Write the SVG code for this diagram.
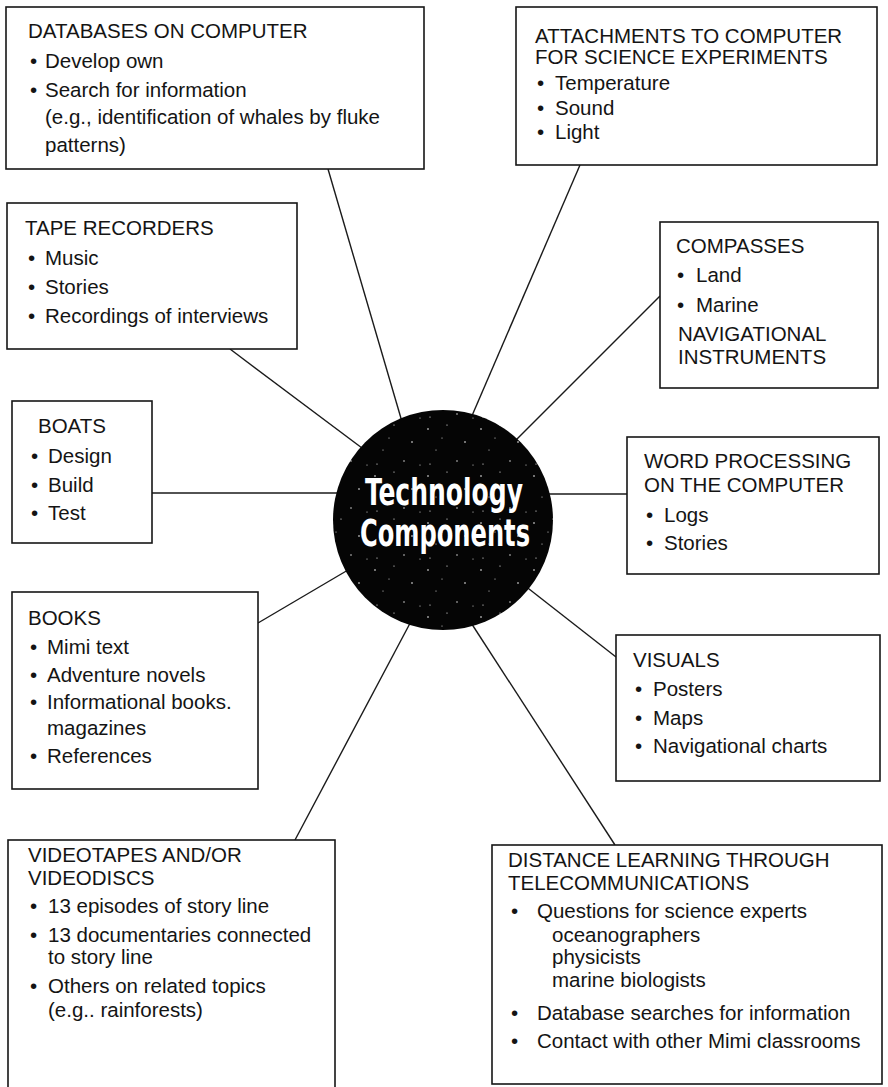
<svg xmlns="http://www.w3.org/2000/svg" width="888" height="1087" viewBox="0 0 888 1087">
<style>
.box{fill:#fff;stroke:#161616;stroke-width:1.6}
.t{font-family:"Liberation Sans",Arial,sans-serif;font-size:20.5px;fill:#141414}
.conn line{stroke:#1a1a1a;stroke-width:1.4}
.hub{font-family:"Liberation Sans Narrow","DejaVu Sans Condensed","Liberation Sans",sans-serif;font-weight:bold;font-size:38px;fill:#fff}
.sp{fill:#fff}
</style>
<defs>
<pattern id="speck" width="53" height="47" patternUnits="userSpaceOnUse">
<rect width="53" height="47" fill="#050505"/>
<circle class="sp" cx="4" cy="6" r="0.8"/>
<circle class="sp" cx="23" cy="2" r="0.6"/>
<circle class="sp" cx="41" cy="19" r="0.8"/>
<circle class="sp" cx="12" cy="27" r="0.5"/>
<circle class="sp" cx="33" cy="38" r="0.7"/>
<circle class="sp" cx="49" cy="42" r="0.5"/>
<circle class="sp" cx="18" cy="15" r="0.5"/>
<circle class="sp" cx="6" cy="41" r="0.6"/>
</pattern>
</defs>
<rect width="888" height="1087" fill="#fff"/>
<g class="conn" id="connectors">
<line x1="328" y1="169" x2="405" y2="432"/>
<line x1="580" y1="165" x2="468" y2="425"/>
<line x1="230" y1="349" x2="370" y2="454"/>
<line x1="660" y1="296" x2="505" y2="451"/>
<line x1="152" y1="493" x2="350" y2="493"/>
<line x1="627" y1="494" x2="535" y2="494"/>
<line x1="258" y1="623" x2="365" y2="560"/>
<line x1="616" y1="657" x2="515" y2="578"/>
<line x1="295" y1="840" x2="416" y2="612"/>
<line x1="615" y1="845" x2="466" y2="615"/>
</g>
<g id="hub">
<circle cx="443" cy="520" r="110" fill="url(#speck)"/>
<text class="hub" x="444" y="505" text-anchor="middle" textLength="158" lengthAdjust="spacingAndGlyphs">Technology</text>
<text class="hub" x="445" y="546" text-anchor="middle" textLength="170" lengthAdjust="spacingAndGlyphs">Components</text>
</g>
<g id="databases">
<rect class="box" x="6" y="7" width="418" height="162"/>
<text class="t" x="28" y="38">DATABASES ON COMPUTER</text>
<text class="t" x="30" y="68">•</text><text class="t" x="45" y="68">Develop own</text>
<text class="t" x="30" y="97">•</text><text class="t" x="45" y="97">Search for information</text>
<text class="t" x="45" y="124">(e.g., identification of whales by fluke</text>
<text class="t" x="45" y="152">patterns)</text>
</g>
<g id="attachments">
<rect class="box" x="516" y="7" width="361" height="158"/>
<text class="t" x="535" y="43">ATTACHMENTS TO COMPUTER</text>
<text class="t" x="535" y="64">FOR SCIENCE EXPERIMENTS</text>
<text class="t" x="537" y="90">•</text><text class="t" x="555" y="90">Temperature</text>
<text class="t" x="537" y="115">•</text><text class="t" x="555" y="115">Sound</text>
<text class="t" x="537" y="139">•</text><text class="t" x="555" y="139">Light</text>
</g>
<g id="tape">
<rect class="box" x="7" y="203" width="290" height="146"/>
<text class="t" x="25" y="235">TAPE RECORDERS</text>
<text class="t" x="28" y="265">•</text><text class="t" x="45" y="265">Music</text>
<text class="t" x="28" y="294">•</text><text class="t" x="45" y="294">Stories</text>
<text class="t" x="28" y="323">•</text><text class="t" x="45" y="323">Recordings of interviews</text>
</g>
<g id="compasses">
<rect class="box" x="660" y="222" width="218" height="166"/>
<text class="t" x="676" y="253">COMPASSES</text>
<text class="t" x="677" y="282">•</text><text class="t" x="696" y="282">Land</text>
<text class="t" x="677" y="312">•</text><text class="t" x="696" y="312">Marine</text>
<text class="t" x="678" y="341">NAVIGATIONAL</text>
<text class="t" x="678" y="364">INSTRUMENTS</text>
</g>
<g id="boats">
<rect class="box" x="12" y="401" width="140" height="142"/>
<text class="t" x="38" y="433">BOATS</text>
<text class="t" x="31" y="463">•</text><text class="t" x="48" y="463">Design</text>
<text class="t" x="31" y="492">•</text><text class="t" x="48" y="492">Build</text>
<text class="t" x="31" y="520">•</text><text class="t" x="48" y="520">Test</text>
</g>
<g id="wordproc">
<rect class="box" x="627" y="437" width="252" height="137"/>
<text class="t" x="644" y="468">WORD PROCESSING</text>
<text class="t" x="644" y="492">ON THE COMPUTER</text>
<text class="t" x="646" y="522">•</text><text class="t" x="664" y="522">Logs</text>
<text class="t" x="646" y="550">•</text><text class="t" x="664" y="550">Stories</text>
</g>
<g id="books">
<rect class="box" x="12" y="592" width="246" height="197"/>
<text class="t" x="28" y="625">BOOKS</text>
<text class="t" x="30" y="654">•</text><text class="t" x="47" y="654">Mimi text</text>
<text class="t" x="30" y="682">•</text><text class="t" x="47" y="682">Adventure novels</text>
<text class="t" x="30" y="709">•</text><text class="t" x="47" y="709">Informational books.</text>
<text class="t" x="47" y="735">magazines</text>
<text class="t" x="30" y="763">•</text><text class="t" x="47" y="763">References</text>
</g>
<g id="visuals">
<rect class="box" x="616" y="635" width="264" height="146"/>
<text class="t" x="633" y="667">VISUALS</text>
<text class="t" x="635" y="696">•</text><text class="t" x="653" y="696">Posters</text>
<text class="t" x="635" y="725">•</text><text class="t" x="653" y="725">Maps</text>
<text class="t" x="635" y="753">•</text><text class="t" x="653" y="753">Navigational charts</text>
</g>
<g id="video">
<rect class="box" x="8" y="840" width="327" height="270"/>
<text class="t" x="28" y="862">VIDEOTAPES AND/OR</text>
<text class="t" x="28" y="885">VIDEODISCS</text>
<text class="t" x="30" y="913">•</text><text class="t" x="48" y="913">13 episodes of story line</text>
<text class="t" x="30" y="942">•</text><text class="t" x="48" y="942">13 documentaries connected</text>
<text class="t" x="48" y="964">to story line</text>
<text class="t" x="30" y="993">•</text><text class="t" x="48" y="993">Others on related topics</text>
<text class="t" x="48" y="1017">(e.g.. rainforests)</text>
</g>
<g id="distance">
<rect class="box" x="492" y="845" width="390" height="239"/>
<text class="t" x="508" y="867">DISTANCE LEARNING THROUGH</text>
<text class="t" x="508" y="890">TELECOMMUNICATIONS</text>
<text class="t" x="511" y="918">•</text><text class="t" x="537" y="918">Questions for science experts</text>
<text class="t" x="552" y="942">oceanographers</text>
<text class="t" x="552" y="964">physicists</text>
<text class="t" x="552" y="987">marine biologists</text>
<text class="t" x="511" y="1020">•</text><text class="t" x="537" y="1020">Database searches for information</text>
<text class="t" x="511" y="1048">•</text><text class="t" x="537" y="1048">Contact with other Mimi classrooms</text>
</g>
</svg>
